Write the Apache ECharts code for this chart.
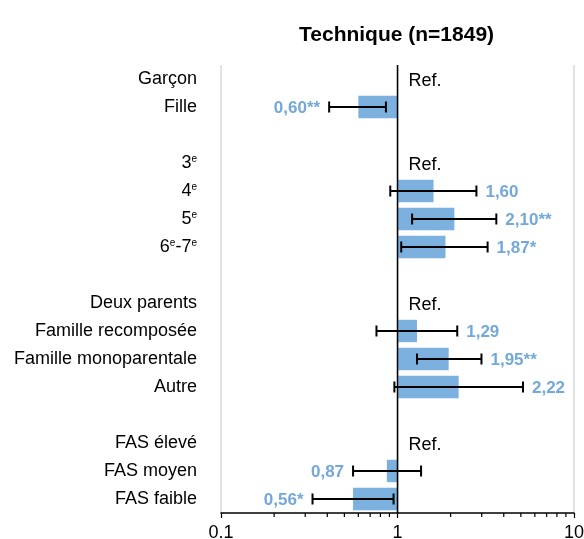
<!DOCTYPE html>
<html><head><meta charset="utf-8">
<script src="https://cdn.jsdelivr.net/npm/echarts@6/dist/echarts.min.js"></script>
<style>html,body{margin:0;padding:0;background:#fff}#c{width:584px;height:539px}</style>
</head><body><div id="c"></div>
<script>
const categories = ['Garçon','Fille','','3e','4e','5e','6e-7e','','Deux parents','Famille recomposée','Famille monoparentale','Autre','','FAS élevé','FAS moyen','FAS faible'];
const oddsRatios = [null,0.60,null,null,1.60,2.10,1.87,null,null,1.29,1.95,2.22,null,null,0.87,0.56];
const ciLow      = [null,0.41,null,null,0.91,1.21,1.05,null,null,0.76,1.29,0.96,null,null,0.56,0.33];
const ciHigh     = [null,0.86,null,null,2.80,3.63,3.24,null,null,2.18,2.99,5.14,null,null,1.36,0.95];
const stars      = ['','**','','','','**','*','','','','**','','','','','*'];
const refRows    = [true,false,false,true,false,false,false,false,true,false,false,false,false,true,false,false];
const refValue = 1;
const axisTicks = [0.1, 1, 10];
const minorTickValues = [0.2,0.3,0.4,0.5,0.6,0.7,0.8,0.9,2,3,4,5,6,7,8,9];
const title = 'Technique (n=1849)';

const FONT = '"Liberation Sans", Arial, sans-serif';
const BAR = '#7cb0de', LAB = '#74a8da';

// rows: [value, categoryIndex, low, high]
const rows = [];
categories.forEach((c, i) => { if (oddsRatios[i] != null) rows.push([oddsRatios[i], i, ciLow[i], ciHigh[i]]); });
const refData = [];
refRows.forEach((r, i) => { if (r) refData.push([refValue, i]); });

function fmtCat(s) { return s.replace(/(\d)e/g, '$1{s|e}'); }
function bandH(api) { return Math.abs(api.coord([1, 1])[1] - api.coord([1, 0])[1]); }

const chart = echarts.init(document.getElementById('c'));
chart.setOption({
  animation: false,
  title: { text: title, left: 294, top: 20, textStyle: { fontFamily: FONT, fontSize: 21, fontWeight: 'bold', color: '#000' } },
  grid: { left: 221, right: 10, top: 65, bottom: 26, containLabel: false, outerBoundsMode: 'none' },
  xAxis: {
    type: 'log', logBase: 10, min: 0.1, max: 10,
    axisLine: { show: true, lineStyle: { color: '#000', width: 1.5 } },
    axisTick: { show: true, length: 5, lineStyle: { color: '#000', width: 1.2 } },
    splitLine: { show: true, lineStyle: { color: '#d9d9d9', width: 1.5 } },
    axisLabel: { fontFamily: FONT, fontSize: 18, color: '#000', margin: 11,
      formatter: v => { const t = axisTicks.find(a => Math.abs(a - v) < 1e-9); return t == null ? '' : String(t); } }
  },
  yAxis: {
    type: 'category', inverse: true, data: categories.map(fmtCat),
    axisLine: { show: false }, axisTick: { show: false }, splitLine: { show: false },
    axisLabel: { fontFamily: FONT, fontSize: 18, color: '#000', margin: 24,
      rich: { s: { fontFamily: FONT, fontSize: 10, color: '#000', verticalAlign: 'top', padding: [0,0,8,0] } } }
  },
  series: [
    {
      type: 'custom', name: 'bars', coordinateSystem: 'cartesian2d', data: rows,
      renderItem: (params, api) => {
        const v = api.value(0), yi = api.value(1);
        const p0 = api.coord([refValue, yi]), p1 = api.coord([v, yi]);
        const h = bandH(api) * 0.8;
        return { type: 'rect', shape: { x: Math.min(p0[0], p1[0]), y: p0[1] - h / 2, width: Math.abs(p1[0] - p0[0]), height: h }, style: { fill: BAR } };
      },
      z: 2
    },
    {
      type: 'custom', name: 'refLine', coordinateSystem: 'cartesian2d', data: [[refValue, 0]],
      renderItem: (params, api) => {
        const x = api.coord([api.value(0), 0])[0];
        const cs = params.coordSys;
        return { type: 'line', shape: { x1: x, y1: cs.y, x2: x, y2: cs.y + cs.height }, style: { stroke: '#000', lineWidth: 1.5 } };
      },
      z: 3
    },
    {
      type: 'custom', name: 'ci', coordinateSystem: 'cartesian2d', data: rows,
      renderItem: (params, api) => {
        const yi = api.value(1);
        const a = api.coord([api.value(2), yi]), b = api.coord([api.value(3), yi]);
        const c = 5.5;
        const st = { stroke: '#000', lineWidth: 2 };
        return { type: 'group', children: [
          { type: 'line', shape: { x1: a[0], y1: a[1], x2: b[0], y2: b[1] }, style: st },
          { type: 'line', shape: { x1: a[0], y1: a[1] - c, x2: a[0], y2: a[1] + c }, style: st },
          { type: 'line', shape: { x1: b[0], y1: b[1] - c, x2: b[0], y2: b[1] + c }, style: st }
        ] };
      },
      z: 4
    },
    {
      type: 'custom', name: 'labels', coordinateSystem: 'cartesian2d', data: rows,
      renderItem: (params, api) => {
        const v = api.value(0), yi = api.value(1);
        const right = v >= refValue;
        const p = api.coord([right ? api.value(3) : api.value(2), yi]);
        const txt = v.toFixed(2).replace('.', ',') + stars[yi];
        return { type: 'text', x: p[0] + (right ? 9 : -9), y: p[1] + 1,
          style: { text: txt, fill: LAB, font: 'bold 17px ' + FONT, textAlign: right ? 'left' : 'right', textVerticalAlign: 'middle' } };
      },
      z: 5
    },
    {
      type: 'custom', name: 'ref', coordinateSystem: 'cartesian2d', data: refData,
      renderItem: (params, api) => {
        const p = api.coord([api.value(0), api.value(1)]);
        return { type: 'text', x: p[0] + 11, y: p[1] + 2,
          style: { text: 'Ref.', fill: '#000', font: '18px ' + FONT, textAlign: 'left', textVerticalAlign: 'middle' } };
      },
      z: 5
    },
    {
      type: 'custom', name: 'minorTicks', coordinateSystem: 'cartesian2d', data: minorTickValues.map(v => [v, 0]),
      renderItem: (params, api) => {
        const x = api.coord([api.value(0), 0])[0];
        const y = params.coordSys.y + params.coordSys.height;
        return { type: 'line', shape: { x1: x, y1: y, x2: x, y2: y + 4 }, style: { stroke: '#000', lineWidth: 1.2 } };
      },
      z: 5
    }
  ]
});
</script></body></html>
